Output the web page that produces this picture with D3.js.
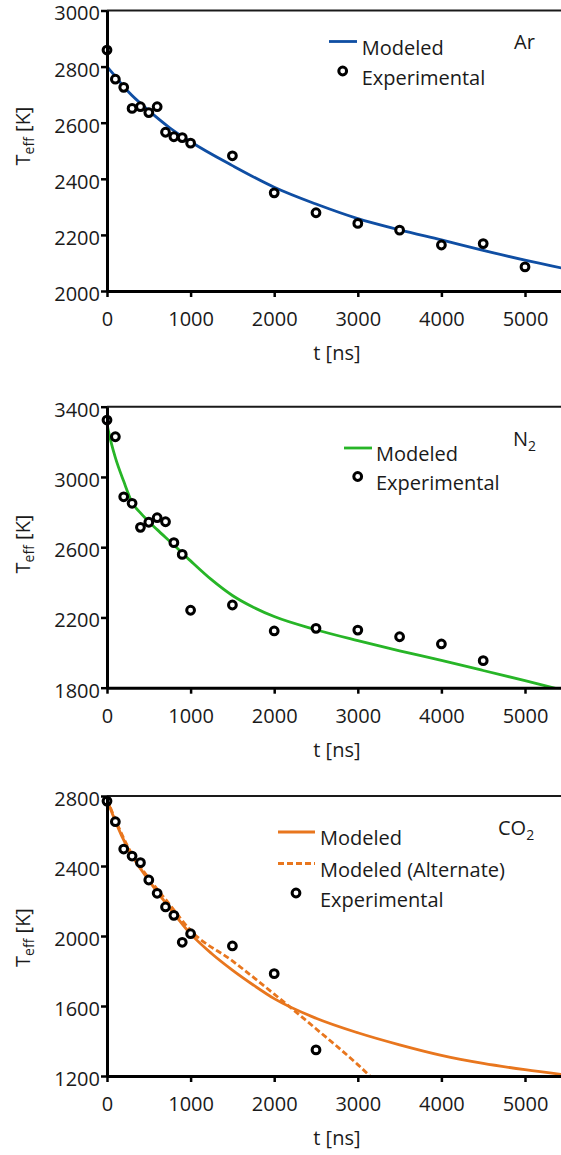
<!DOCTYPE html>
<html>
<head>
<meta charset="utf-8">
<script src="https://cdn.jsdelivr.net/npm/d3@7"></script>
<style>
  html, body { margin: 0; padding: 0; background: #fff; }
  svg { display: block; font-family: "Open Sans", sans-serif; }
</style>
</head>
<body>
<svg id="chart" width="561" height="1155"></svg>
<script>
// ---- shared time axis (ns) ----
const timeTicks = [0, 1000, 2000, 3000, 4000, 5000];
const timeDomain = [0, 5500];

// ---- Ar ----
const arExpTime = [0, 100, 200, 300, 400, 500, 600, 700, 800, 900, 1000, 1500, 2000, 2500, 3000, 3500, 4000, 4500, 5000, 5500];
const arExpTemp = [2859, 2755, 2726, 2651, 2657, 2636, 2657, 2566, 2550, 2547, 2527, 2482, 2350, 2279, 2241, 2217, 2164, 2169, 2086, 2130];
const arModelTime = [0, 100, 250, 500, 750, 1000, 1500, 2000, 2500, 3000, 3500, 4000, 4500, 5000, 5500];
const arModelTemp = [2800, 2765, 2712, 2643, 2582, 2532, 2447, 2370, 2310, 2258, 2218, 2182, 2145, 2110, 2078];
const arTempTicks = [2000, 2200, 2400, 2600, 2800, 3000];

// ---- N2 ----
const n2ExpTime = [0, 100, 200, 300, 400, 500, 600, 700, 800, 900, 1000, 1500, 2000, 2500, 3000, 3500, 4000, 4500];
const n2ExpTemp = [3324, 3229, 2887, 2850, 2713, 2742, 2768, 2745, 2626, 2559, 2241, 2271, 2123, 2138, 2128, 2090, 2049, 1954];
const n2ModelTime = [0, 50, 100, 200, 300, 400, 500, 600, 800, 1000, 1250, 1500, 1750, 2000, 2500, 3000, 3500, 4000, 4500, 5000, 5500];
const n2ModelTemp = [3300, 3195, 3110, 2975, 2855, 2795, 2745, 2700, 2612, 2522, 2415, 2325, 2258, 2205, 2130, 2068, 2010, 1955, 1898, 1840, 1780];
const n2TempTicks = [1800, 2200, 2600, 3000, 3400];

// ---- CO2 ----
const co2ExpTime = [0, 100, 200, 300, 400, 500, 600, 700, 800, 900, 1000, 1500, 2000, 2500];
const co2ExpTemp = [2771, 2653, 2497, 2457, 2419, 2320, 2244, 2166, 2118, 1964, 2013, 1943, 1785, 1349];
const co2ModelTime = [0, 100, 250, 500, 750, 1000, 1250, 1500, 1750, 2000, 2500, 3000, 3500, 4000, 4500, 5000, 5500];
const co2ModelTemp = [2780, 2655, 2500, 2318, 2160, 2012, 1900, 1805, 1720, 1642, 1530, 1447, 1378, 1318, 1272, 1236, 1205];
const co2AltTime = [0, 100, 250, 500, 750, 1000, 1500, 2000, 2500, 3000, 3200];
const co2AltTemp = [2782, 2665, 2510, 2330, 2180, 2032, 1858, 1668, 1470, 1265, 1175];
const co2TempTicks = [1200, 1600, 2000, 2400, 2800];

const zip = (xs, ys) => xs.map((x, i) => ({ t: x, v: ys[i] }));

// ---- panel layout ----
const panels = [
  {
    gas: "Ar", sub: "", color: "#0f4ea3",
    yDomain: [2000, 3000], yRange: [291, 10.5], ticks: arTempTicks,
    exp: zip(arExpTime, arExpTemp),
    models: [{ pts: zip(arModelTime, arModelTemp), dash: null, label: "Modeled" }],
    gasPos: [514, 49], ylabelY: 136,
    legend: { sx: [329, 357], cx: 342.7, tx: 361.7, rows: [54.5, 84.5] }
  },
  {
    gas: "N", sub: "2", color: "#27b527",
    yDomain: [1800, 3400], yRange: [687.7, 406.7], ticks: n2TempTicks,
    exp: zip(n2ExpTime, n2ExpTemp),
    models: [{ pts: zip(n2ModelTime, n2ModelTemp), dash: null, label: "Modeled" }],
    gasPos: [513, 445.5], ylabelY: 544,
    legend: { sx: [344, 372], cx: 357.7, tx: 376, rows: [461, 490] }
  },
  {
    gas: "CO", sub: "2", color: "#e8761e",
    yDomain: [1200, 2800], yRange: [1076, 796], ticks: co2TempTicks,
    exp: zip(co2ExpTime, co2ExpTemp),
    models: [
      { pts: zip(co2ModelTime, co2ModelTemp), dash: null, label: "Modeled" },
      { pts: zip(co2AltTime, co2AltTemp), dash: "6,3", label: "Modeled (Alternate)" }
    ],
    gasPos: [498, 835], ylabelY: 937.5,
    legend: { sx: [278, 315], cx: 296, tx: 320, rows: [845, 876.5, 906.5] }
  }
];

const svg = d3.select("#chart");
const x = d3.scaleLinear().domain(timeDomain).range([107, 107 + 5.5 * 83.6]);
const FS = 20;
const R = 3.9, RW = 3;

panels.forEach((p, pi) => {
  const y = d3.scaleLinear().domain(p.yDomain).range(p.yRange);
  const g = svg.append("g");
  const top = p.yRange[1], bottom = p.yRange[0];

  const clipId = "clip" + pi;
  svg.append("defs").append("clipPath").attr("id", clipId)
    .append("rect").attr("x", x.range()[0]).attr("y", top)
    .attr("width", x.range()[1] - x.range()[0]).attr("height", bottom - top);

  // top frame
  g.append("line")
    .attr("x1", x.range()[0]).attr("x2", x.range()[1])
    .attr("y1", top).attr("y2", top)
    .attr("stroke", "#1a1a1a").attr("stroke-width", 2);

  // model curves
  const line = d3.line().x(d => x(d.t)).y(d => y(d.v)).curve(d3.curveMonotoneX);
  const plot = g.append("g").attr("clip-path", `url(#${clipId})`);
  p.models.forEach(m => {
    plot.append("path").datum(m.pts)
      .attr("d", line)
      .attr("fill", "none")
      .attr("stroke", p.color)
      .attr("stroke-width", 2.8)
      .attr("stroke-dasharray", m.dash);
  });

  // experimental points
  g.append("g").selectAll("circle").data(p.exp).join("circle")
    .attr("cx", d => x(d.t)).attr("cy", d => y(d.v)).attr("r", R)
    .attr("fill", "#fff").attr("stroke", "#000").attr("stroke-width", RW);

  // axes
  const yAxis = d3.axisLeft(y).tickValues(p.ticks).tickSize(6).tickSizeOuter(0).tickPadding(1)
    .tickFormat(d3.format("d"));
  const xAxis = d3.axisBottom(x).tickValues(timeTicks).tickSize(6).tickSizeOuter(0).tickPadding(15)
    .tickFormat(d3.format("d"));

  const ya = g.append("g").attr("transform", `translate(${x.range()[0]},0)`).call(yAxis);
  const xa = g.append("g").attr("transform", `translate(0,${bottom})`).call(xAxis);
  [ya, xa].forEach(a => {
    a.select(".domain").attr("stroke", "#000").attr("stroke-width", 3);
    a.selectAll(".tick line").attr("stroke", "#000").attr("stroke-width", 2.5);
    a.selectAll(".tick text").attr("fill", "#1a1a1a").style("font-size", FS + "px")
      .style("font-family", "'Open Sans', sans-serif");
  });
  ya.selectAll(".tick text").attr("dy", "0.47em");

  // y label: T_eff [K]
  const yl = g.append("text")
    .attr("transform", `translate(29.5,${p.ylabelY}) rotate(-90)`)
    .attr("text-anchor", "middle").attr("fill", "#1a1a1a").style("font-size", FS + "px");
  yl.append("tspan").text("T");
  yl.append("tspan").text("eff").attr("dy", 4).style("font-size", "14px");
  yl.append("tspan").text(" [K]").attr("dy", -4);

  // x label
  g.append("text")
    .attr("x", (x.range()[0] + x.range()[1]) / 2).attr("y", bottom + 69)
    .attr("text-anchor", "middle").attr("fill", "#1a1a1a").style("font-size", FS + "px")
    .text("t [ns]");

  // gas label
  const gl = g.append("text").attr("x", p.gasPos[0]).attr("y", p.gasPos[1])
    .attr("fill", "#1a1a1a").style("font-size", FS + "px");
  gl.append("tspan").text(p.gas);
  if (p.sub) gl.append("tspan").text(p.sub).attr("dy", 5).style("font-size", "14px");

  // legend
  const L = p.legend;
  const entries = p.models.map(m => ({ kind: "line", dash: m.dash, label: m.label }))
    .concat([{ kind: "circle", label: "Experimental" }]);
  entries.forEach((e, i) => {
    const b = L.rows[i];
    if (e.kind === "line") {
      g.append("line").attr("x1", L.sx[0]).attr("x2", L.sx[1])
        .attr("y1", b - 13).attr("y2", b - 13)
        .attr("stroke", p.color).attr("stroke-width", 2.8)
        .attr("stroke-dasharray", e.dash);
    } else {
      g.append("circle").attr("cx", L.cx).attr("cy", b - 13.5).attr("r", R)
        .attr("fill", "#fff").attr("stroke", "#000").attr("stroke-width", RW);
    }
    g.append("text").attr("x", L.tx).attr("y", b).attr("fill", "#1a1a1a")
      .style("font-size", FS + "px").text(e.label);
  });
});
</script>
</body>
</html>
